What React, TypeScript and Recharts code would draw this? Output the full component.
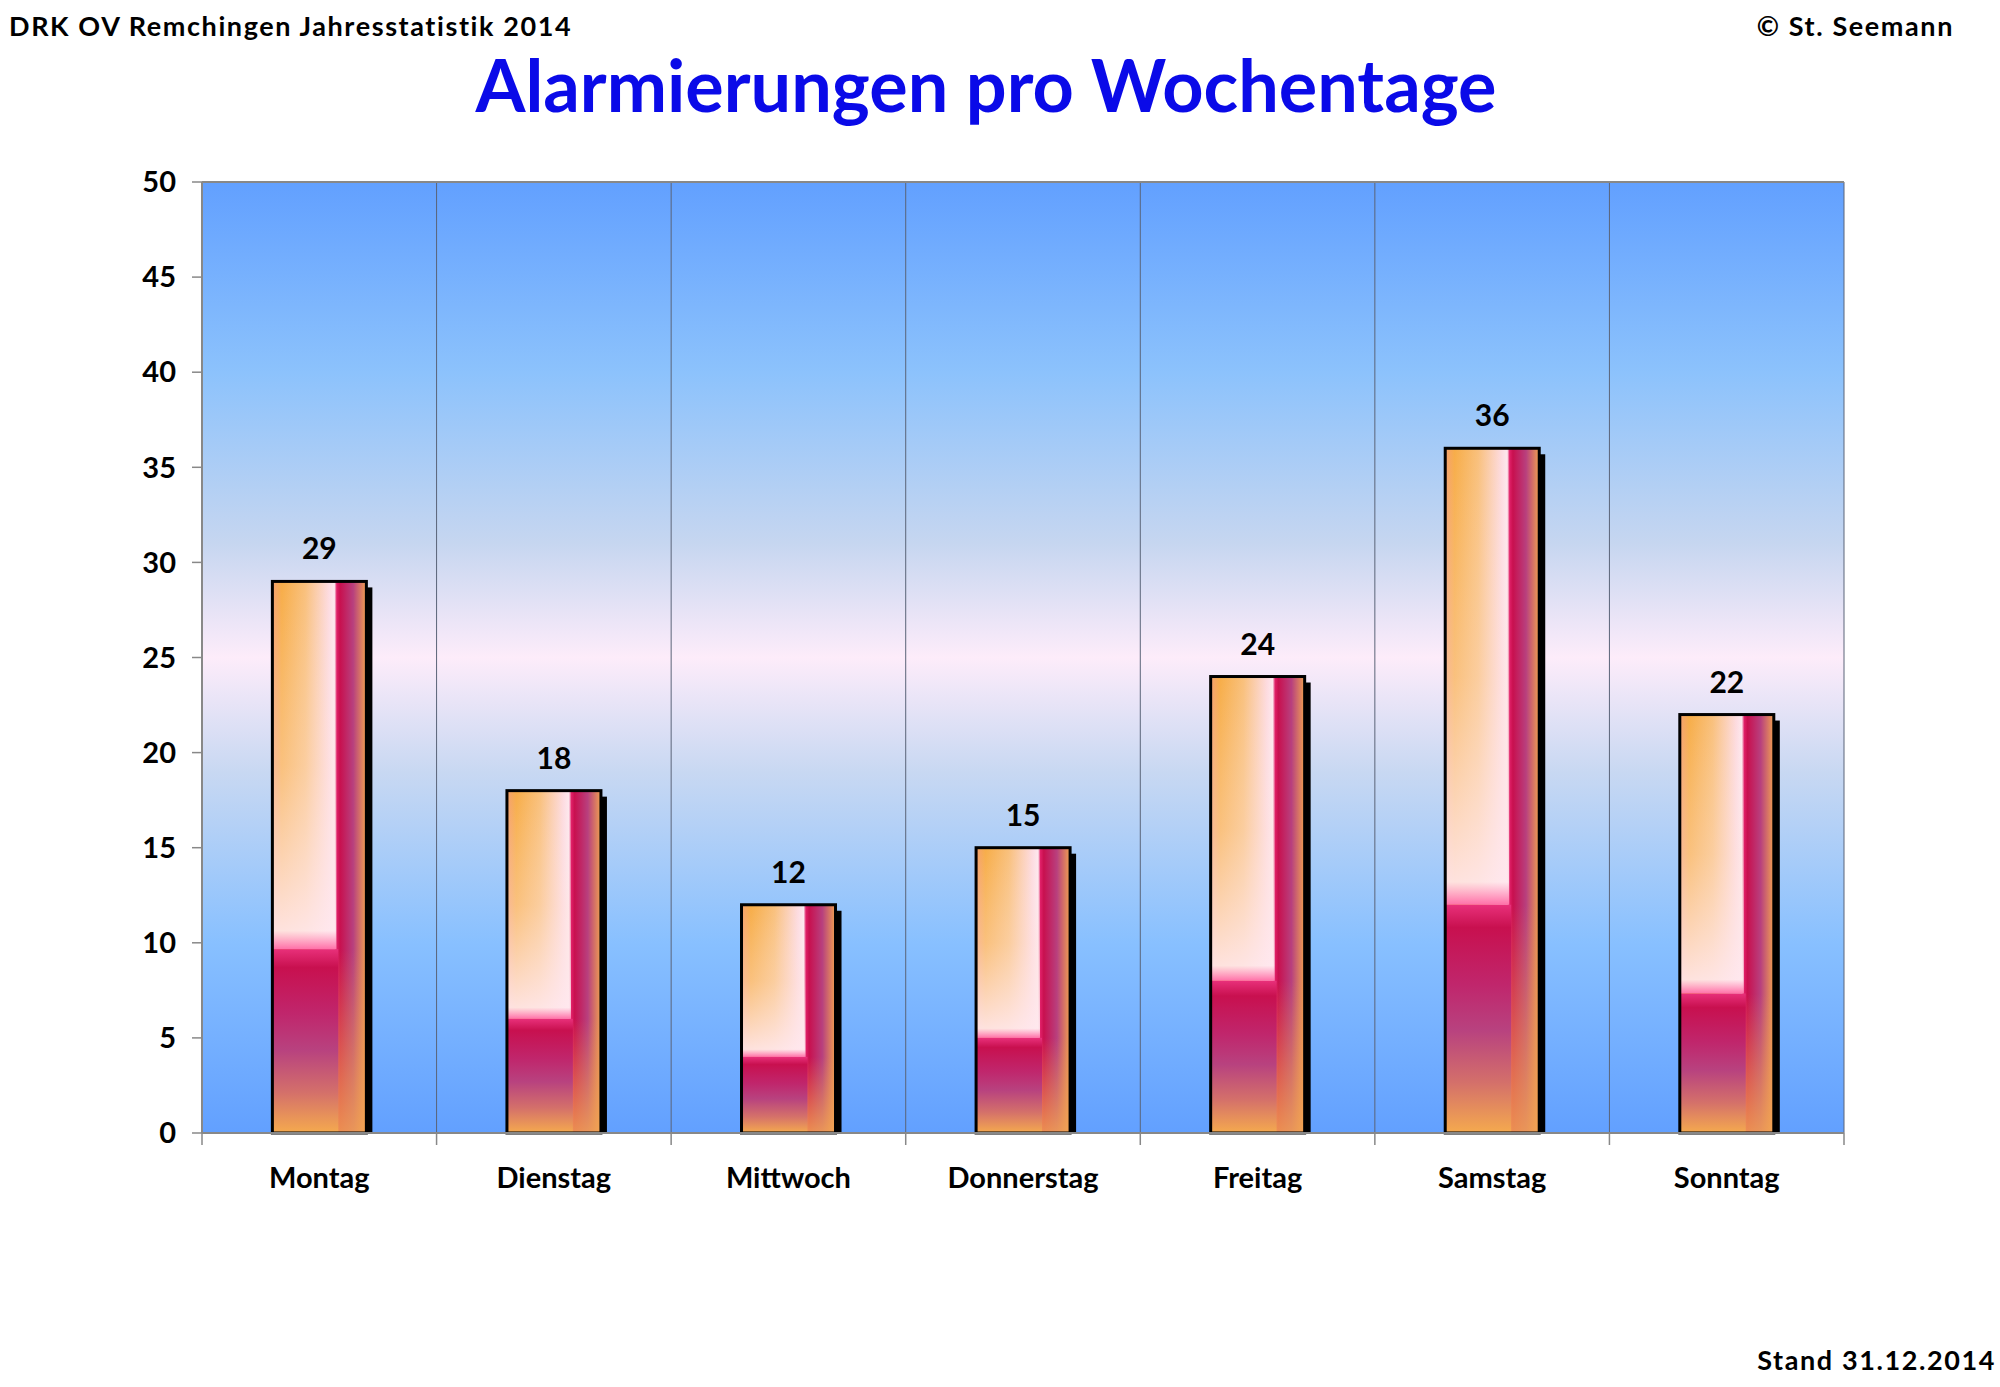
import { Bar, BarChart, CartesianGrid, LabelList, ReferenceLine, XAxis, YAxis } from "recharts";

const days = ["Montag", "Dienstag", "Mittwoch", "Donnerstag", "Freitag", "Samstag", "Sonntag"];
const alarms = [29, 18, 12, 15, 24, 36, 22];
const yTicks = [0, 5, 10, 15, 20, 25, 30, 35, 40, 45, 50];

const data = days.map((day, i) => ({ day, count: alarms[i] }));

const FONT = "Lato, 'Open Sans', sans-serif";
const TICK_MARGIN = 34;

// glossy bar with dark lower third and drop shadow
function FancyBar(props: any) {
  let x = Number(props.x);
  let w = Number(props.width);
  let y = Number(props.y);
  let h = Number(props.height);
  if (w < 0) {
    x = x + w;
    w = -w;
  }
  if (h < 0) {
    y = y + h;
    h = -h;
  }
  if (!isFinite(x) || !isFinite(y) || !isFinite(w) || !isFinite(h) || h === 0) return <g />;
  const split = 0.68;
  const lowH = h / 3;
  const upH = h - lowH;
  const id = `fb${props.index ?? 0}`;
  return (
    <g>
      <defs>
        <linearGradient id={`${id}h`} x1="0" y1="0" x2="1" y2="0">
          <stop offset="0" stopColor="#f5a070" />
          <stop offset="0.1" stopColor="#f7ad48" />
          <stop offset="0.35" stopColor="#f9c07c" />
          <stop offset="0.6" stopColor="#fddbe0" />
          <stop offset="0.66" stopColor="#fde8ee" />
          <stop offset="0.685" stopColor="#e02068" />
          <stop offset="0.72" stopColor="#c8104f" />
          <stop offset="0.86" stopColor="#b8407e" />
          <stop offset="1" stopColor="#f0a050" />
        </linearGradient>
        <linearGradient id={`${id}u`} x1="0" y1="0" x2="0" y2="1">
          <stop offset="0" stopColor="#fff0f0" stopOpacity="0" />
          <stop offset="0.5" stopColor="#ffe6e0" stopOpacity="0.35" />
          <stop offset="0.95" stopColor="#ffe8ee" stopOpacity="0.9" />
          <stop offset="1" stopColor="#ff70a8" stopOpacity="1" />
        </linearGradient>
        <linearGradient id={`${id}l`} x1="0" y1="0" x2="0" y2="1">
          <stop offset="0" stopColor="#e8307a" />
          <stop offset="0.1" stopColor="#c8104f" />
          <stop offset="0.35" stopColor="#c0266c" />
          <stop offset="0.55" stopColor="#b8427f" />
          <stop offset="0.78" stopColor="#d4706a" />
          <stop offset="1" stopColor="#f5aa4e" />
        </linearGradient>
        <linearGradient id={`${id}r`} x1="0" y1="0" x2="0" y2="1">
          <stop offset="0" stopColor="#f0a050" stopOpacity="0" />
          <stop offset="1" stopColor="#f2a552" stopOpacity="0.85" />
        </linearGradient>
      </defs>
      <rect x={x + 6} y={y + 6} width={w} height={h - 6} fill="#000" />
      <rect x={x} y={y} width={w} height={h} fill={`url(#${id}h)`} />
      <rect x={x} y={y} width={w * split} height={upH} fill={`url(#${id}u)`} />
      <rect x={x + w * split} y={y + upH} width={w * (1 - split)} height={lowH} fill={`url(#${id}r)`} />
      <rect x={x} y={y + upH} width={w * split + 2} height={lowH} fill={`url(#${id}l)`} />
      <rect x={x} y={y} width={w} height={h} fill="none" stroke="#000" strokeWidth={3} />
    </g>
  );
}

// category label plus tick marks at the category boundaries
function DayTick(props: any) {
  const { x, y, payload, index, visibleTicksCount } = props;
  const half = payload?.offset ?? 0;
  const axisY = y - TICK_MARGIN;
  const last = index === (visibleTicksCount ?? days.length) - 1;
  return (
    <g>
      <line x1={x - half} x2={x - half} y1={axisY} y2={axisY + 12} stroke="#888" strokeWidth={1.5} />
      {last && <line x1={x + half} x2={x + half} y1={axisY} y2={axisY + 12} stroke="#888" strokeWidth={1.5} />}
      <text x={x} y={y} dy="0.71em" textAnchor="middle" fill="#000" fontSize={29} fontWeight={700} fontFamily={FONT}>
        {payload.value}
      </text>
    </g>
  );
}

export default function App() {
  return (
    <div style={{ position: "absolute", left: 0, top: 0, width: 2000, height: 1387, background: "#fff", fontFamily: FONT }}>
      <BarChart
        width={2000}
        height={1387}
        data={data}
        margin={{ top: 182, right: 156, left: 122, bottom: 194 }}
        barCategoryGap="30%"
      >
        <defs>
          <linearGradient id="bgGrad" x1="0" y1="0" x2="0" y2="1">
            <stop offset="0" stopColor="#62a0ff" />
            <stop offset="0.2" stopColor="#8cc2fc" />
            <stop offset="0.38" stopColor="#c6d6f0" />
            <stop offset="0.5" stopColor="#fdecfa" />
            <stop offset="0.62" stopColor="#c8d8f2" />
            <stop offset="0.8" stopColor="#88c0ff" />
            <stop offset="1" stopColor="#62a0ff" />
          </linearGradient>
        </defs>
        <CartesianGrid
          horizontal={false}
          vertical
          stroke="#5a6478"
          strokeWidth={1}
          fill="url(#bgGrad)"
          fillOpacity={1}
          verticalCoordinatesGenerator={({ offset }: any) =>
            days.map((_, i) => offset.left + ((i + 1) * offset.width) / days.length)
          }
        />
        <XAxis
          dataKey="day"
          height={60}
          tickLine={false}
          axisLine={{ stroke: "#888", strokeWidth: 2 }}
          tickSize={0}
          tickMargin={TICK_MARGIN}
          interval={0}
          tick={<DayTick />}
        />
        <YAxis
          domain={[0, 50]}
          ticks={yTicks}
          width={80}
          tickSize={10}
          tickMargin={16}
          axisLine={{ stroke: "#888", strokeWidth: 2 }}
          tickLine={{ stroke: "#888", strokeWidth: 1.5 }}
          tick={{ fill: "#000", fontSize: 29, fontWeight: 700, fontFamily: FONT }}
        />
        <ReferenceLine y={50} stroke="#888" strokeWidth={2} />
        <Bar dataKey="count" fill="#f7ad48" shape={(p: any) => <FancyBar {...p} />} isAnimationActive={false}>
          <LabelList dataKey="count" position="top" offset={22} fill="#000" fontSize={30} fontWeight={700} fontFamily={FONT} />
        </Bar>
      </BarChart>
      <svg width={2000} height={1387} style={{ position: "absolute", left: 0, top: 0, pointerEvents: "none" }}>
        <text x={9} y={36} fontSize={27} fontWeight={700} fontFamily={FONT} fill="#000" letterSpacing={1.6}>
          DRK OV Remchingen Jahresstatistik 2014
        </text>
        <text x={1954} y={36} fontSize={27} fontWeight={700} fontFamily={FONT} fill="#000" textAnchor="end" letterSpacing={1.6}>
          © St. Seemann
        </text>
        <text x={986} y={112} fontSize={72} fontWeight={700} fontFamily={FONT} fill="#0a0ae8" textAnchor="middle">
          Alarmierungen pro Wochentage
        </text>
        <text x={1996} y={1370} fontSize={27} fontWeight={700} fontFamily={FONT} fill="#000" textAnchor="end" letterSpacing={1.6}>
          Stand 31.12.2014
        </text>
      </svg>
    </div>
  );
}
